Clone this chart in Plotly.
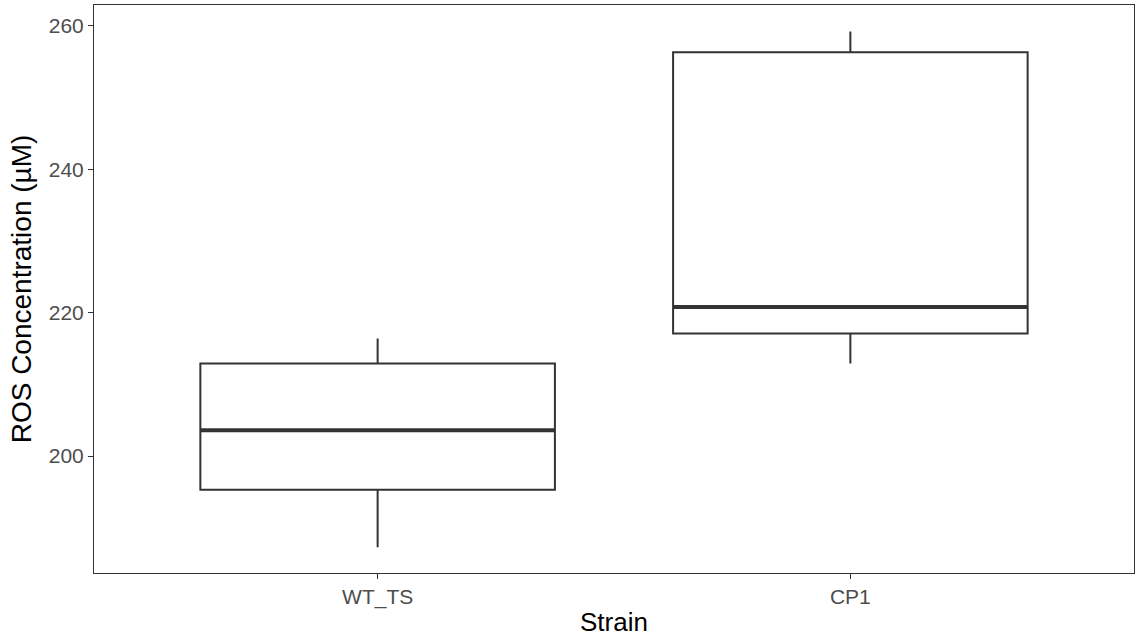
import plotly.graph_objects as go

categories = ["WT_TS", "CP1"]
lower_whisker = [187.3, 212.9]
q1 = [195.3, 217.1]
median = [203.6, 220.8]
q3 = [212.9, 256.3]
upper_whisker = [216.4, 259.2]
y_ticks = [200, 220, 240, 260]

positions = [1, 2]
box_width = 0.75
line_col = "#333333"

fig = go.Figure()
for i, cat in enumerate(categories):
    fig.add_trace(go.Box(
        x=[positions[i]], q1=[q1[i]], median=[median[i]], q3=[q3[i]],
        lowerfence=[lower_whisker[i]], upperfence=[upper_whisker[i]],
        width=box_width, whiskerwidth=0, fillcolor="white",
        line=dict(color=line_col, width=2), boxpoints=False,
        name=cat, showlegend=False, hoverinfo="skip",
    ))
    fig.add_trace(go.Scatter(
        x=[positions[i] - box_width / 2, positions[i] + box_width / 2],
        y=[median[i], median[i]], mode="lines",
        line=dict(color=line_col, width=4), showlegend=False, hoverinfo="skip",
    ))

fig.update_layout(
    width=1143, height=642,
    margin=dict(l=94, r=9, t=5, b=69),
    paper_bgcolor="white", plot_bgcolor="white",
    font=dict(family="Liberation Sans, Arial, sans-serif"),
)
fig.update_xaxes(
    range=[0.4, 2.6], tickvals=positions, ticktext=categories,
    showgrid=False, zeroline=False,
    showline=True, mirror=True, linecolor=line_col, linewidth=1,
    ticks="outside", ticklen=5, tickcolor=line_col, tickwidth=1,
    tickfont=dict(size=21, color="#4d4d4d"),
    title=dict(text="Strain", font=dict(size=26, color="black"), standoff=4),
)
fig.update_yaxes(
    range=[183.7, 262.9], tickvals=y_ticks,
    showgrid=False, zeroline=False,
    showline=True, mirror=True, linecolor=line_col, linewidth=1,
    ticks="outside", ticklen=5, tickcolor=line_col, tickwidth=1,
    tickfont=dict(size=21, color="#4d4d4d"),
    title=dict(text="ROS Concentration (µM)", font=dict(size=28, color="black"), standoff=8),
)
fig.write_html("out.html")
